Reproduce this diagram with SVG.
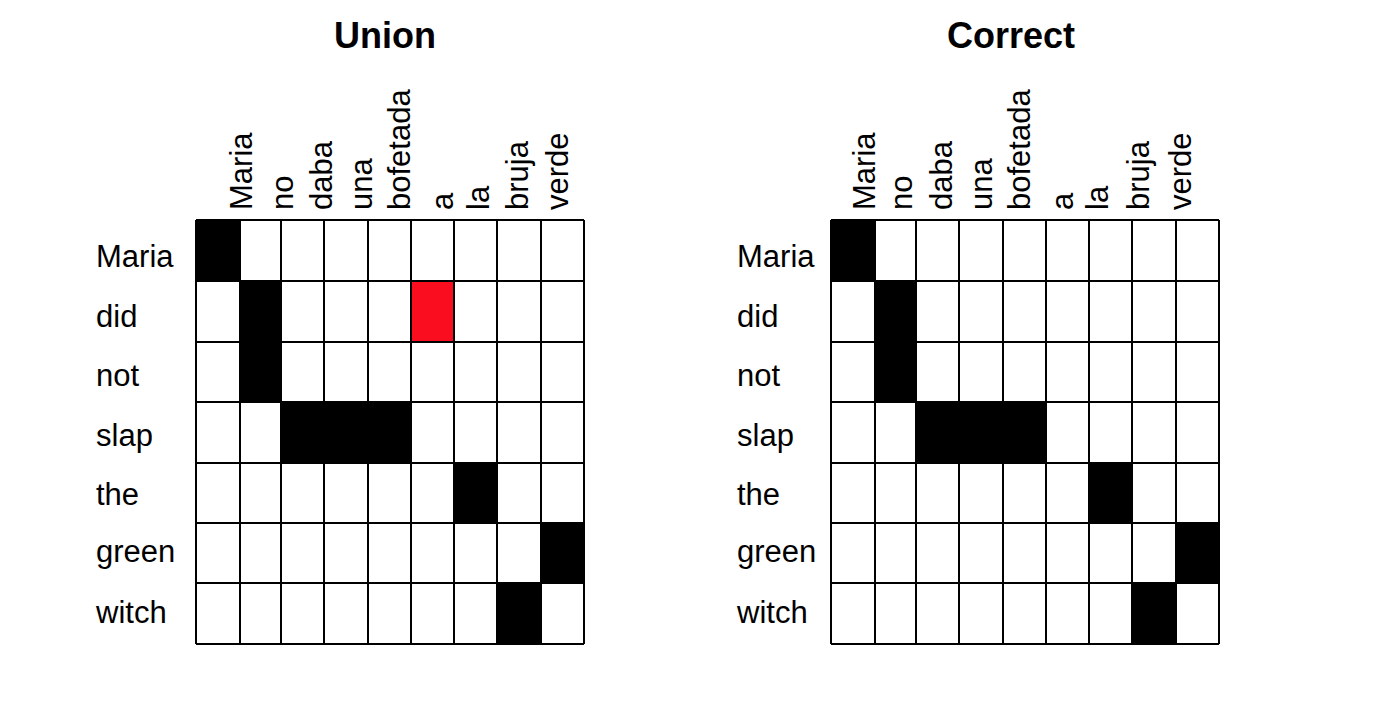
<svg xmlns="http://www.w3.org/2000/svg" width="1374" height="704" viewBox="0 0 1374 704">
<style>
.title{font-family:"Liberation Sans",Arial,sans-serif;font-weight:bold;font-size:36px;fill:#000;text-anchor:middle}
.lbl{font-family:"Liberation Sans",Arial,sans-serif;font-size:31px;fill:#000}
.grid{fill:none;stroke:#000;stroke-width:2}
.on{fill:#000}
.red{fill:#f90d1f}
</style>
<rect width="1374" height="704" fill="#fff"/>
<g id="union">
  <text class="title" x="385" y="48">Union</text>
  <g id="union-rows">
    <text class="lbl" x="96" y="267">Maria</text>
    <text class="lbl" x="96" y="327">did</text>
    <text class="lbl" x="96" y="386">not</text>
    <text class="lbl" x="96" y="446">slap</text>
    <text class="lbl" x="96" y="505">the</text>
    <text class="lbl" x="96" y="562">green</text>
    <text class="lbl" x="96" y="623">witch</text>
  </g>
  <g id="union-cols">
    <text class="lbl" transform="translate(252,210) rotate(-90)">Maria</text>
    <text class="lbl" transform="translate(293,210) rotate(-90)">no</text>
    <text class="lbl" transform="translate(332,210) rotate(-90)">daba</text>
    <text class="lbl" transform="translate(372,210) rotate(-90)">una</text>
    <text class="lbl" transform="translate(410,210) rotate(-90)">bofetada</text>
    <text class="lbl" transform="translate(453,210) rotate(-90)">a</text>
    <text class="lbl" transform="translate(489,210) rotate(-90)">la</text>
    <text class="lbl" transform="translate(528,210) rotate(-90)">bruja</text>
    <text class="lbl" transform="translate(568,210) rotate(-90)">verde</text>
  </g>
  <g id="union-cells">
    <rect class="on" x="196" y="220" width="44" height="61"/>
    <rect class="on" x="240" y="281" width="41" height="121"/>
    <rect class="red" x="411" y="281" width="43" height="61"/>
    <rect class="on" x="281" y="402" width="130" height="61"/>
    <rect class="on" x="454" y="463" width="43" height="60"/>
    <rect class="on" x="541" y="523" width="43" height="60"/>
    <rect class="on" x="497" y="583" width="44" height="61"/>
  </g>
  <path class="grid" d="M196 220V644M240 220V644M281 220V644M324 220V644M368 220V644M411 220V644M454 220V644M497 220V644M541 220V644M584 220V644M196 220H584M196 281H584M196 342H584M196 402H584M196 463H584M196 523H584M196 583H584M196 644H584"/>
</g>
<g id="correct">
  <text class="title" x="1011" y="48">Correct</text>
  <g id="correct-rows">
    <text class="lbl" x="737" y="267">Maria</text>
    <text class="lbl" x="737" y="327">did</text>
    <text class="lbl" x="737" y="386">not</text>
    <text class="lbl" x="737" y="446">slap</text>
    <text class="lbl" x="737" y="505">the</text>
    <text class="lbl" x="737" y="562">green</text>
    <text class="lbl" x="737" y="623">witch</text>
  </g>
  <g id="correct-cols">
    <text class="lbl" transform="translate(875,210) rotate(-90)">Maria</text>
    <text class="lbl" transform="translate(912,210) rotate(-90)">no</text>
    <text class="lbl" transform="translate(952,210) rotate(-90)">daba</text>
    <text class="lbl" transform="translate(992,210) rotate(-90)">una</text>
    <text class="lbl" transform="translate(1030,210) rotate(-90)">bofetada</text>
    <text class="lbl" transform="translate(1073,210) rotate(-90)">a</text>
    <text class="lbl" transform="translate(1108,210) rotate(-90)">la</text>
    <text class="lbl" transform="translate(1149,210) rotate(-90)">bruja</text>
    <text class="lbl" transform="translate(1191,210) rotate(-90)">verde</text>
  </g>
  <g id="correct-cells">
    <rect class="on" x="831" y="220" width="44" height="61"/>
    <rect class="on" x="875" y="281" width="41" height="121"/>
    <rect class="on" x="916" y="402" width="130" height="61"/>
    <rect class="on" x="1089" y="463" width="43" height="60"/>
    <rect class="on" x="1176" y="523" width="43" height="60"/>
    <rect class="on" x="1132" y="583" width="44" height="61"/>
  </g>
  <path class="grid" d="M831 220V644M875 220V644M916 220V644M959 220V644M1003 220V644M1046 220V644M1089 220V644M1132 220V644M1176 220V644M1219 220V644M831 220H1219M831 281H1219M831 342H1219M831 402H1219M831 463H1219M831 523H1219M831 583H1219M831 644H1219"/>
</g>
</svg>
